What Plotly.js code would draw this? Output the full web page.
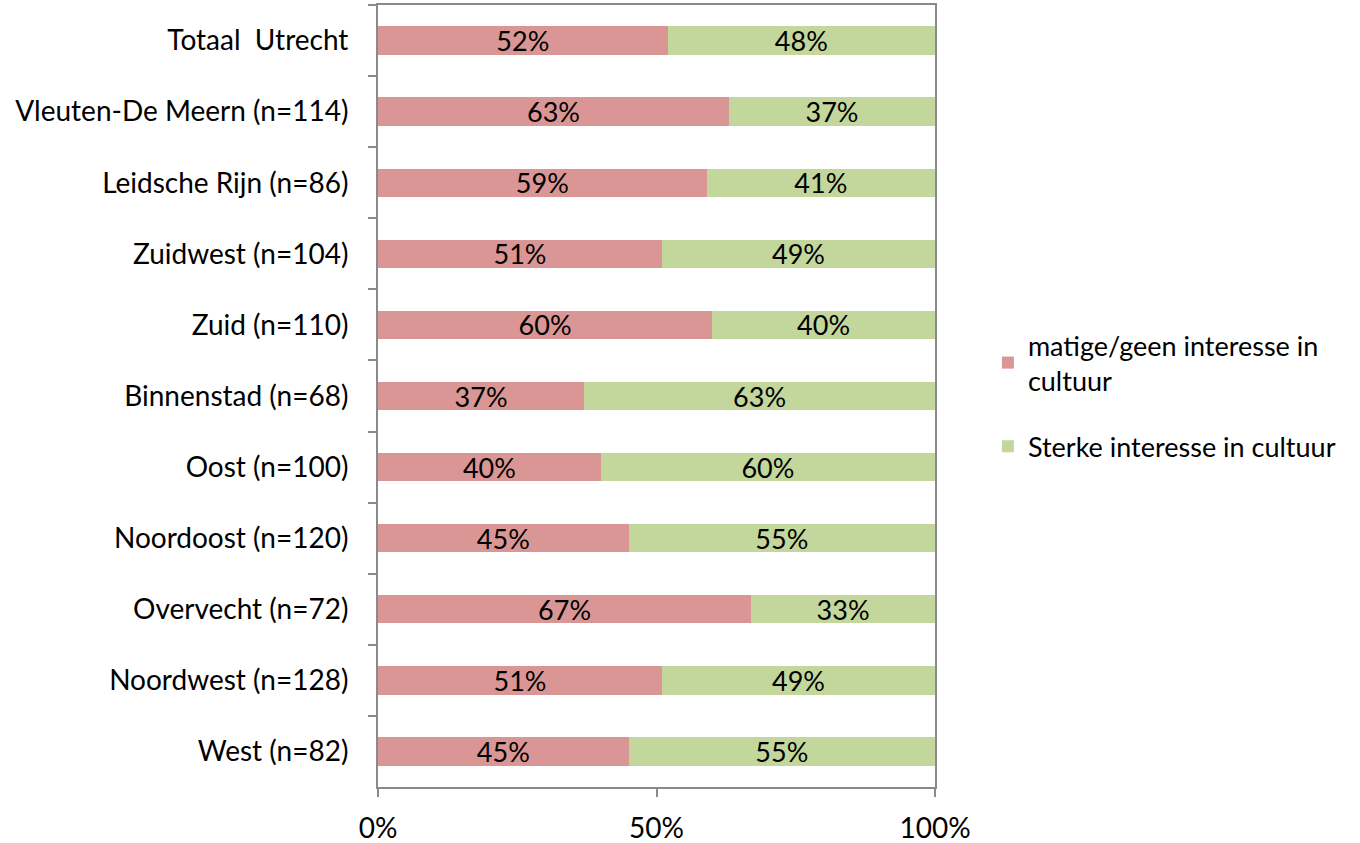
<!DOCTYPE html>
<html>
<head>
<meta charset="utf-8">
<script src="https://cdn.plot.ly/plotly-3.0.1.min.js"></script>
<style>
  html, body { margin: 0; padding: 0; background: #ffffff; }
  #chart { width: 1360px; height: 843px; }
</style>
</head>
<body>
<div id="chart"></div>
<script>
// Wijken (van boven naar beneden)
const categories = [
  'Totaal  Utrecht',
  'Vleuten-De Meern (n=114)',
  'Leidsche Rijn (n=86)',
  'Zuidwest (n=104)',
  'Zuid (n=110)',
  'Binnenstad (n=68)',
  'Oost (n=100)',
  'Noordoost (n=120)',
  'Overvecht (n=72)',
  'Noordwest (n=128)',
  'West (n=82)'
];

// Aandeel per wijk (%)
const matigeGeen = [52, 63, 59, 51, 60, 37, 40, 45, 67, 51, 45];
const sterke     = [48, 37, 41, 49, 40, 63, 60, 55, 33, 49, 55];

const seriesNames = ['matige/geen interesse in<br>cultuur', 'Sterke interesse in cultuur'];
const xTickVals = [0, 50, 100];
const xTickText = ['0%', '50%', '100%'];

const FONT = 'Lato, "Open Sans", sans-serif';
const AXIS_GREY = '#8a8a8a';

function barTrace(values, name, color, group) {
  return {
    type: 'bar',
    orientation: 'h',
    y: categories,
    x: values,
    name: name,
    legendgroup: group,
    width: 0.4,
    marker: { color: color, line: { width: 0 } },
    text: values.map(v => v + '%'),
    texttemplate: '%{text}',
    textposition: 'inside',
    insidetextanchor: 'middle',
    constraintext: 'none',
    textfont: { family: FONT, size: 27, color: '#000000' },
    hoverinfo: 'skip'
  };
}

const data = [
  barTrace(matigeGeen, seriesNames[0], '#d99694', 'matig'),
  barTrace(sterke, seriesNames[1], '#c3d69b', 'sterk')
];

const layout = {
  width: 1360,
  height: 843,
  margin: { l: 378, r: 425, t: 5, b: 56 },
  paper_bgcolor: '#ffffff',
  plot_bgcolor: '#ffffff',
  barmode: 'stack',
  bargap: 0.6,
  showlegend: true,
  font: { family: FONT, size: 28, color: '#000000' },
  xaxis: {
    range: [0, 100],
    tickvals: xTickVals,
    ticktext: xTickText,
    ticks: 'outside',
    ticklen: 8,
    tickwidth: 2,
    tickcolor: AXIS_GREY,
    ticklabelstandoff: 7,
    showgrid: false,
    zeroline: false,
    showline: true,
    mirror: true,
    linecolor: AXIS_GREY,
    linewidth: 2,
    tickfont: { family: FONT, size: 28, color: '#000000' },
    fixedrange: true
  },
  yaxis: {
    type: 'category',
    categoryorder: 'array',
    categoryarray: categories,
    autorange: 'reversed',
    ticks: 'outside',
    tickson: 'boundaries',
    ticklen: 8,
    tickwidth: 2,
    tickcolor: AXIS_GREY,
    ticklabelstandoff: 22,
    showgrid: false,
    zeroline: false,
    showline: true,
    mirror: true,
    linecolor: AXIS_GREY,
    linewidth: 2,
    tickfont: { family: FONT, size: 28, color: '#000000' },
    fixedrange: true
  },
  legend: {
    x: 1.095,
    xanchor: 'left',
    y: 0.5,
    yanchor: 'middle',
    traceorder: 'grouped',
    tracegroupgap: 28,
    font: { family: FONT, size: 27, color: '#000000' },
    bgcolor: 'rgba(0,0,0,0)',
    itemwidth: 30
  }
};

Plotly.newPlot('chart', data, layout, { displayModeBar: false, staticPlot: true });
</script>
</body>
</html>
